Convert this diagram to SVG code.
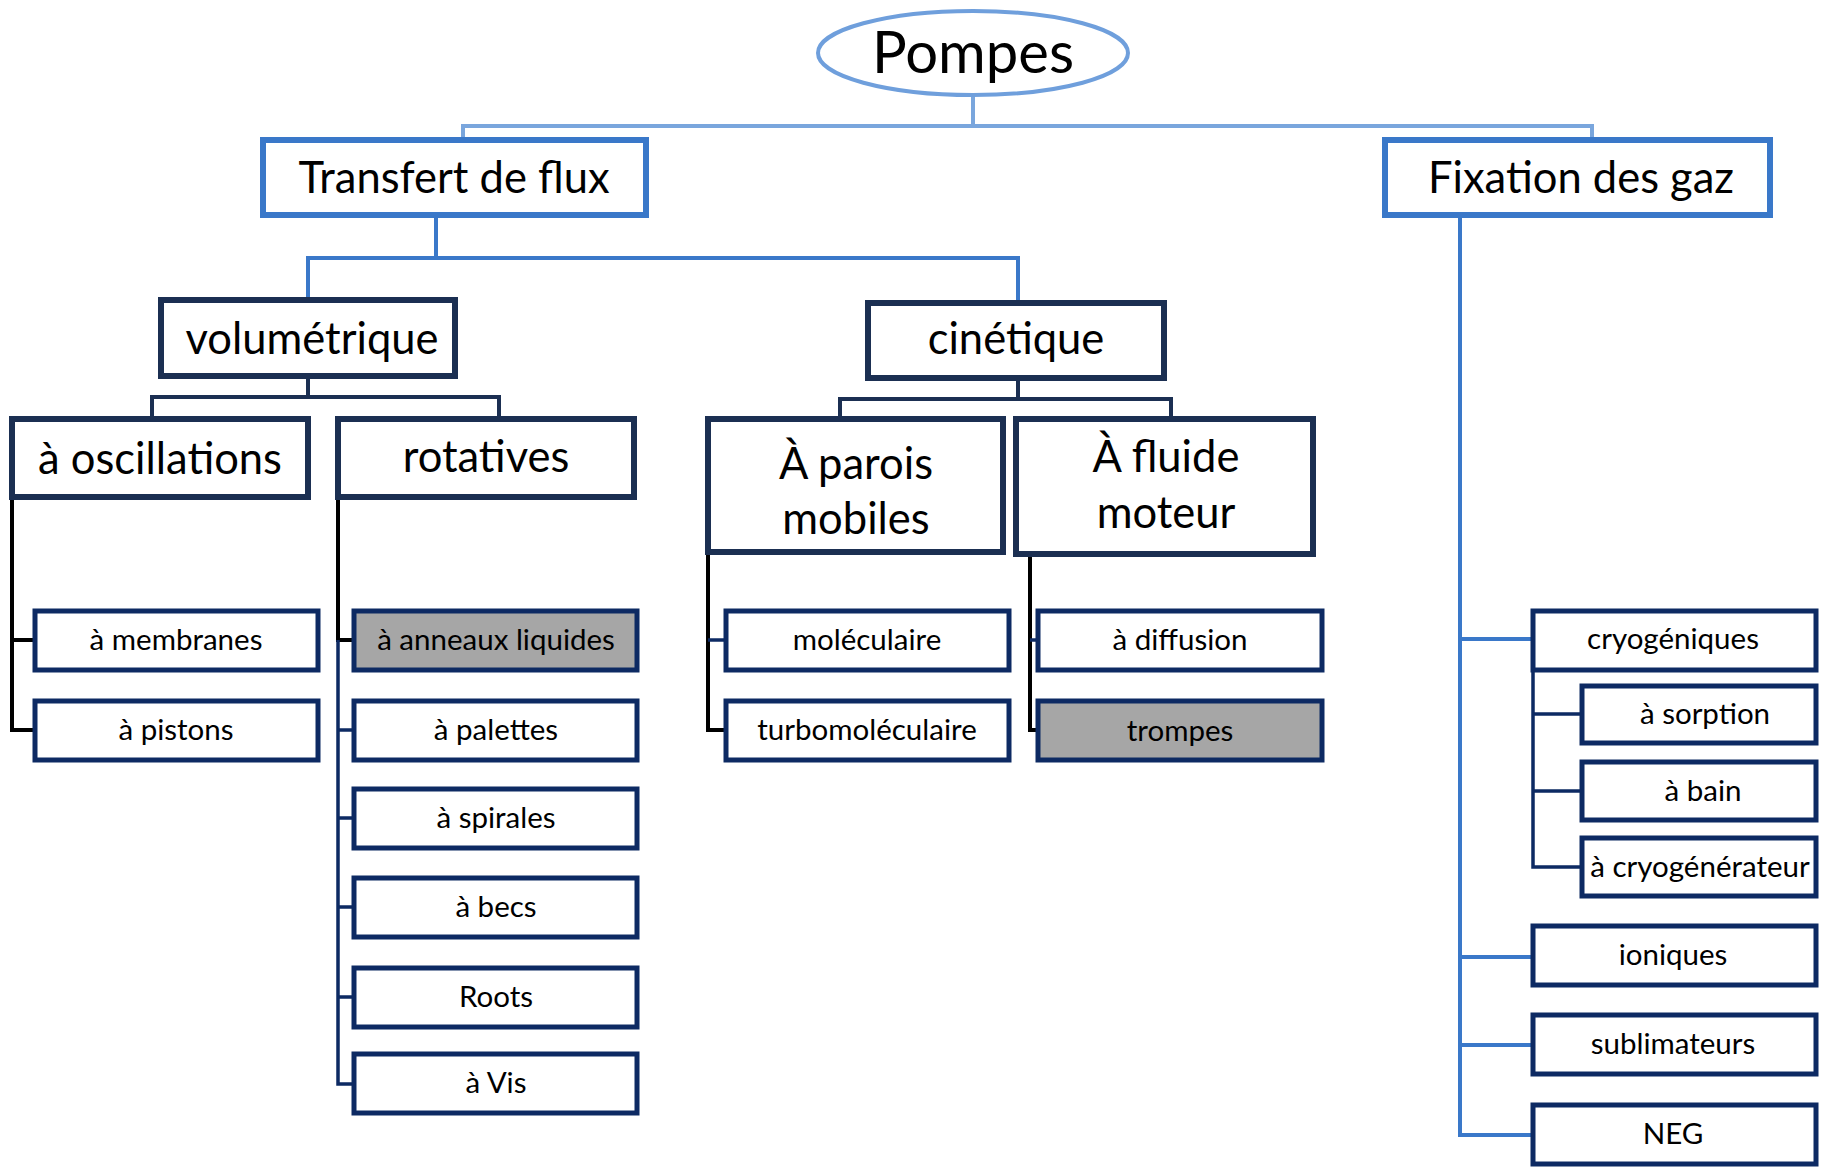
<svg xmlns="http://www.w3.org/2000/svg" width="1825" height="1168" viewBox="0 0 1825 1168">
<style>
.t{font-family:Lato,"Open Sans","Liberation Sans",sans-serif;fill:#000;text-anchor:middle}
.big{font-size:43.5px}
.leaf{font-size:29.5px}
.b1{fill:#fff;stroke:#3a78c9;stroke-width:6}
.b2{fill:#fff;stroke:#1b2f52;stroke-width:6}
.b3{fill:#fff;stroke:#0d2a63;stroke-width:5}
.gray{fill:#a6a6a6}
.c0{fill:none;stroke:#7aa6dd;stroke-width:4}
.c1{fill:none;stroke:#3a78c9;stroke-width:4}
.c2{fill:none;stroke:#1b2f52;stroke-width:4}
.c3{fill:none;stroke:#0d2a63;stroke-width:3.5}
.ck{fill:none;stroke:#000;stroke-width:4}
</style>
<g id="connectors">
<path class="c0" d="M973 95V126M463 140V126H1592V140"/>
<path class="c1" d="M436 215V258M308 300V258H1018V303"/>
<path class="c2" d="M308 376V397M152 419V397H499V419"/>
<path class="c2" d="M1018 378V399M840 419V399H1171V419"/>
<path class="ck" d="M12 497V730H35M12 640H35"/>
<path class="ck" d="M338 497V640H354"/>
<path class="c3" d="M338 640V1084H354M338 730H354M338 818H354M338 907H354M338 997H354"/>
<path class="ck" d="M708 552V730H726"/>
<path class="c3" d="M708 640H726"/>
<path class="ck" d="M1030 554V730H1038"/>
<path class="c3" d="M1030 640H1038"/>
<path class="c1" d="M1460 215V1135H1533M1460 639H1533M1460 957H1533M1460 1045H1533"/>
<path class="c3" d="M1533 670V867H1582M1533 714H1582M1533 791H1582"/>
</g>
<g id="pompes"><ellipse cx="973" cy="53" rx="155" ry="42" fill="#fff" stroke="#6f9fdc" stroke-width="4"/><text class="t" x="973" y="73" font-size="58">Pompes</text></g>
<g id="transfert"><rect class="b1" x="263" y="140" width="383" height="75"/><text class="t big" x="454" y="193">Transfert de flux</text></g>
<g id="fixation"><rect class="b1" x="1385" y="140" width="385" height="75"/><text class="t big" x="1581" y="193">Fixation des gaz</text></g>
<g id="volumetrique"><rect class="b2" x="161" y="300" width="294" height="76"/><text class="t big" x="312" y="354">volumétrique</text></g>
<g id="cinetique"><rect class="b2" x="868" y="303" width="296" height="75"/><text class="t big" x="1016" y="354">cinétique</text></g>
<g id="oscillations"><rect class="b2" x="12" y="419" width="296" height="78"/><text class="t big" x="160" y="474">à oscillations</text></g>
<g id="rotatives"><rect class="b2" x="338" y="419" width="296" height="78"/><text class="t big" x="486" y="472">rotatives</text></g>
<g id="parois"><rect class="b2" x="708" y="419" width="295" height="133"/><text class="t big" x="856" y="479">À parois</text><text class="t big" x="856" y="534">mobiles</text></g>
<g id="fluide"><rect class="b2" x="1016" y="419" width="297" height="135"/><text class="t big" x="1166" y="472">À fluide</text><text class="t big" x="1166" y="528">moteur</text></g>
<g id="membranes"><rect class="b3" x="35" y="611" width="283" height="59"/><text class="t leaf" x="176" y="650">à membranes</text></g>
<g id="pistons"><rect class="b3" x="35" y="701" width="283" height="59"/><text class="t leaf" x="176" y="740">à pistons</text></g>
<g id="anneaux"><rect class="b3 gray" x="354" y="611" width="283" height="59"/><text class="t leaf" x="496" y="650">à anneaux liquides</text></g>
<g id="palettes"><rect class="b3" x="354" y="701" width="283" height="59"/><text class="t leaf" x="496" y="740">à palettes</text></g>
<g id="spirales"><rect class="b3" x="354" y="789" width="283" height="59"/><text class="t leaf" x="496" y="828">à spirales</text></g>
<g id="becs"><rect class="b3" x="354" y="878" width="283" height="59"/><text class="t leaf" x="496" y="917">à becs</text></g>
<g id="roots"><rect class="b3" x="354" y="968" width="283" height="59"/><text class="t leaf" x="496" y="1007">Roots</text></g>
<g id="vis"><rect class="b3" x="354" y="1054" width="283" height="59"/><text class="t leaf" x="496" y="1093">à Vis</text></g>
<g id="moleculaire"><rect class="b3" x="726" y="611" width="283" height="59"/><text class="t leaf" x="867" y="650">moléculaire</text></g>
<g id="turbo"><rect class="b3" x="726" y="701" width="283" height="59"/><text class="t leaf" x="867" y="740">turbomoléculaire</text></g>
<g id="diffusion"><rect class="b3" x="1038" y="611" width="284" height="59"/><text class="t leaf" x="1180" y="650">à diffusion</text></g>
<g id="trompes"><rect class="b3 gray" x="1038" y="701" width="284" height="59"/><text class="t leaf" x="1180" y="741">trompes</text></g>
<g id="cryogeniques"><rect class="b3" x="1533" y="611" width="283" height="59"/><text class="t leaf" x="1673" y="649">cryogéniques</text></g>
<g id="sorption"><rect class="b3" x="1582" y="686" width="234" height="57"/><text class="t leaf" x="1705" y="724">à sorption</text></g>
<g id="bain"><rect class="b3" x="1582" y="762" width="234" height="58"/><text class="t leaf" x="1703" y="801">à bain</text></g>
<g id="cryogenerateur"><rect class="b3" x="1582" y="838" width="234" height="58"/><text class="t leaf" x="1700" y="877">à cryogénérateur</text></g>
<g id="ioniques"><rect class="b3" x="1533" y="926" width="283" height="59"/><text class="t leaf" x="1673" y="965">ioniques</text></g>
<g id="sublimateurs"><rect class="b3" x="1533" y="1015" width="283" height="59"/><text class="t leaf" x="1673" y="1054">sublimateurs</text></g>
<g id="neg"><rect class="b3" x="1533" y="1105" width="283" height="59"/><text class="t leaf" x="1673" y="1144">NEG</text></g>
</svg>
